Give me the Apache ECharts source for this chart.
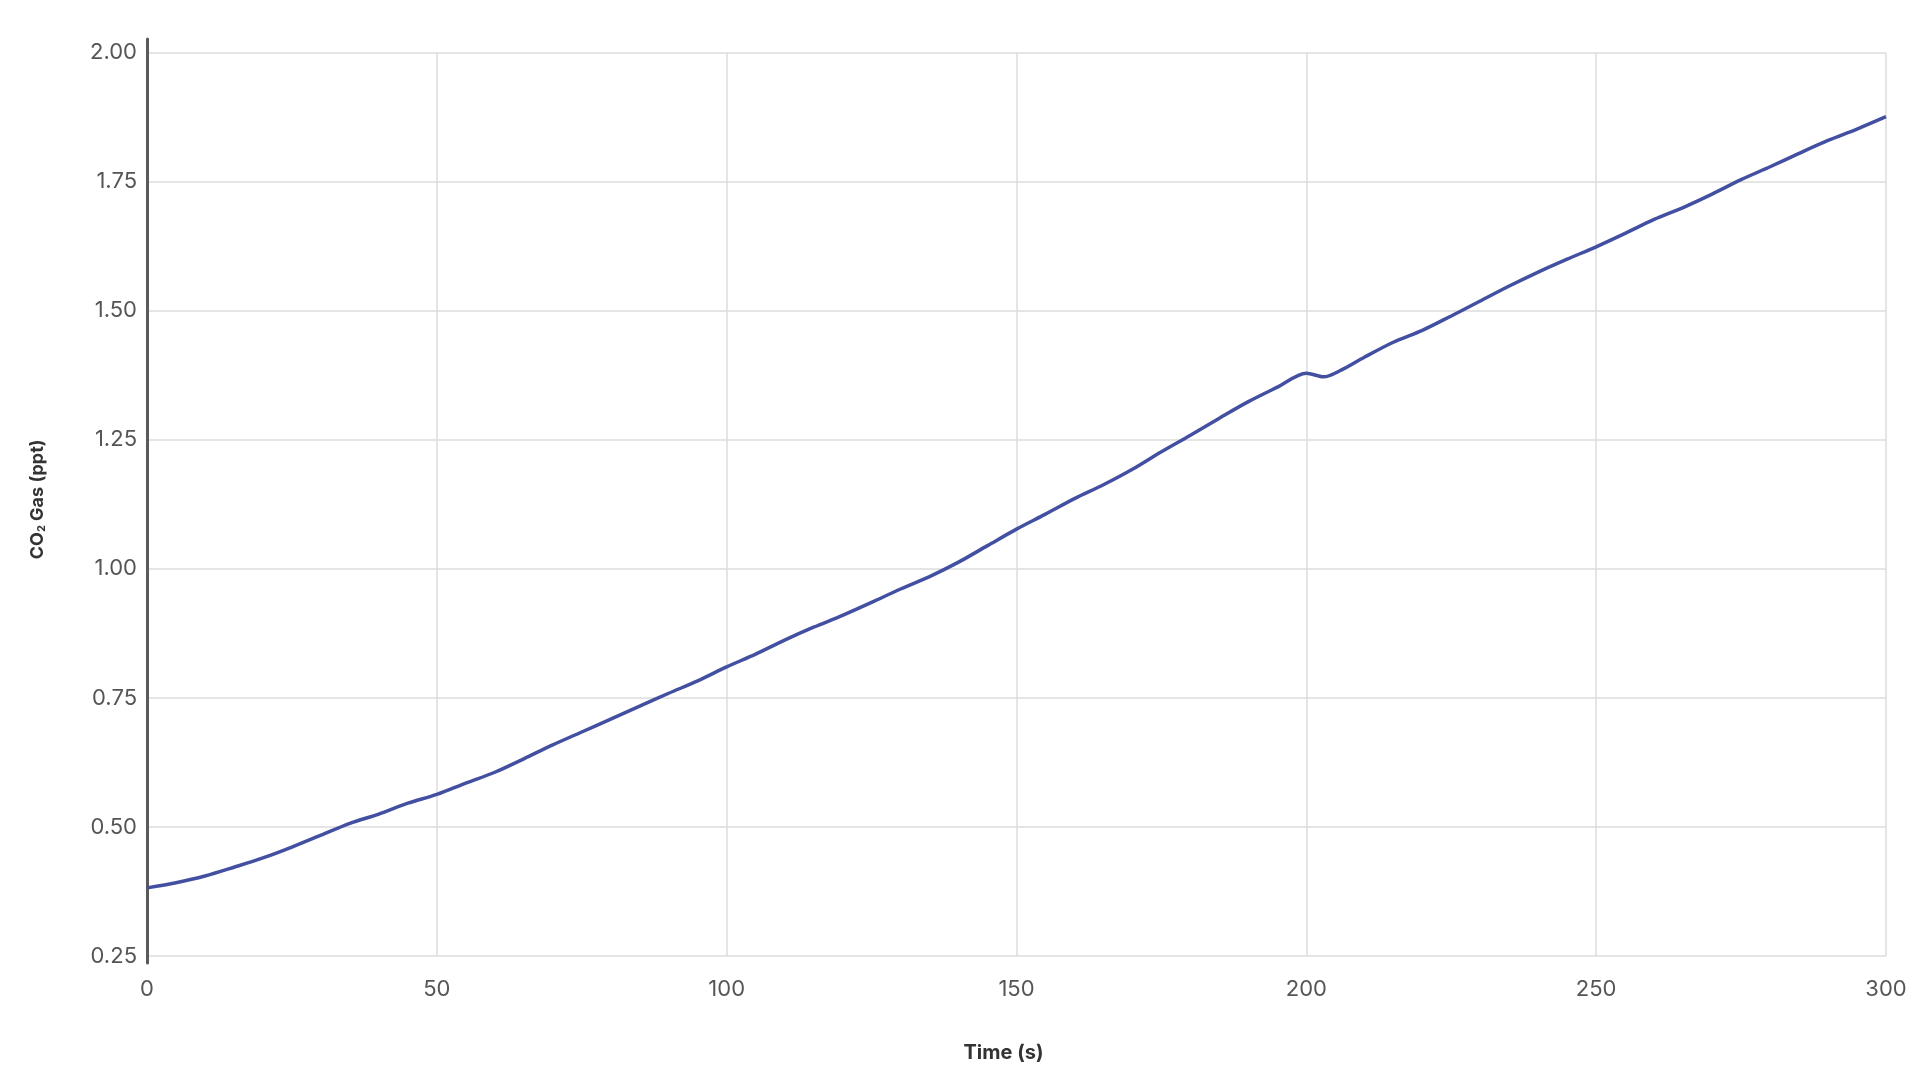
<!DOCTYPE html>
<html>
<head>
<meta charset="utf-8">
<script src="https://cdn.jsdelivr.net/npm/echarts@6/dist/echarts.min.js"></script>
<style>
html,body{margin:0;padding:0;background:#fff;}
#chart{width:1920px;height:1092px;}
</style>
</head>
<body>
<div id="chart"></div>
<script>
// Time (s)
const times = [0,5,10,15,20,25,30,35,40,45,50,55,60,65,70,75,80,85,90,95,100,105,110,115,120,125,130,135,140,145,150,155,160,165,170,175,180,185,190,195,200,203,206,210,215,220,225,230,235,240,245,250,255,260,265,270,275,280,285,290,295,300];
// CO2 Gas (ppt)
const co2 = [0.382,0.392,0.405,0.422,0.440,0.461,0.484,0.507,0.525,0.546,0.563,0.585,0.606,0.632,0.659,0.684,0.709,0.734,0.759,0.783,0.810,0.835,0.862,0.887,0.910,0.935,0.961,0.985,1.013,1.045,1.077,1.106,1.136,1.163,1.193,1.227,1.259,1.292,1.324,1.352,1.379,1.372,1.385,1.410,1.439,1.462,1.490,1.519,1.548,1.575,1.600,1.624,1.650,1.677,1.700,1.726,1.754,1.779,1.805,1.830,1.852,1.876];
const xTicks = [0,50,100,150,200,250,300];
const yTicks = [0.25,0.50,0.75,1.00,1.25,1.50,1.75,2.00];

const font = 'Inter, "Liberation Sans", sans-serif';
const chart = echarts.init(document.getElementById('chart'), null, {renderer:'canvas'});
const seriesData = times.map((t,i)=>[t, co2[i]]);

chart.setOption({
  animation:false,
  backgroundColor:'#ffffff',
  grid:[
    {left:147, right:34, top:52.7, bottom:136, containLabel:false},
    {left:147, right:34, top:39, bottom:129, containLabel:false}
  ],
  xAxis:[{
    type:'value', gridIndex:0,
    min:xTicks[0], max:xTicks[xTicks.length-1], interval:50,
    axisLine:{show:false},
    axisTick:{show:false},
    splitLine:{show:true, lineStyle:{color:'#dcdcdc', width:1.5}},
    axisLabel:{color:'#555', fontSize:22, fontFamily:font, margin:22},
    name:'Time (s)', nameLocation:'middle', nameGap:87,
    nameTextStyle:{color:'#333', fontSize:20, fontWeight:'bold', fontFamily:font, padding:[0,26,0,0]}
  },{
    type:'value', gridIndex:1, min:0, max:1, show:false
  }],
  yAxis:[{
    type:'value', gridIndex:0,
    min:yTicks[0], max:yTicks[yTicks.length-1], interval:0.25,
    axisLine:{show:false},
    axisTick:{show:false},
    splitLine:{show:true, lineStyle:{color:'#dcdcdc', width:1.5}},
    axisLabel:{color:'#555', fontSize:22, fontFamily:font, margin:10,
      formatter:v=>v.toFixed(2)},
    name:'{a|CO}{s|2}{a| Gas (ppt)}', nameLocation:'middle', nameGap:100, nameRotate:90,
    nameTextStyle:{
      padding:[0,0,0,10],
      rich:{
        a:{color:'#333', fontSize:18, fontWeight:'bold', fontFamily:font},
        s:{color:'#333', fontSize:11, fontWeight:'bold', fontFamily:font, verticalAlign:'bottom', padding:[6,0,0,0]}
      }
    }
  },{
    type:'value', gridIndex:1, min:0, max:1,
    axisLine:{show:true, lineStyle:{color:'#5a5a5a', width:3}},
    axisTick:{show:false}, axisLabel:{show:false}, splitLine:{show:false}
  }],
  series:[{
    type:'line', xAxisIndex:0, yAxisIndex:0,
    data:seriesData,
    showSymbol:false,
    smooth:0.3,
    lineStyle:{color:'#4350a2', width:3.5},
    z:5
  }]
});
</script>
</body>
</html>
